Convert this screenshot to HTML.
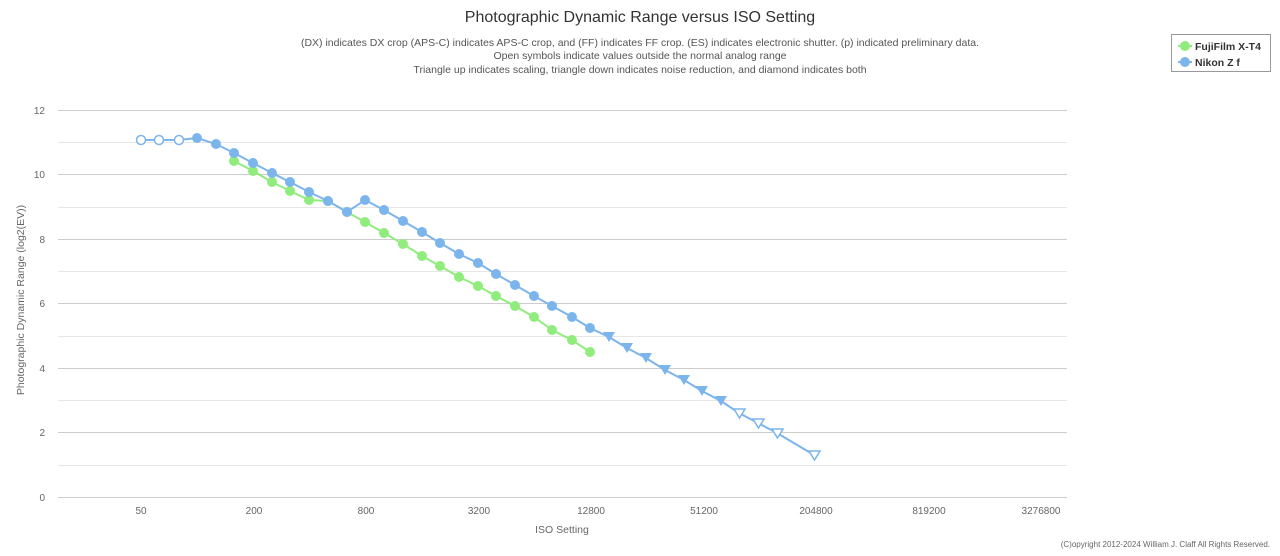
<!DOCTYPE html>
<html><head><meta charset="utf-8"><style>
body{margin:0;background:#fff;width:1280px;height:551px;overflow:hidden;font-family:"Liberation Sans",sans-serif}
</style></head><body>
<svg width="1280" height="551" xmlns="http://www.w3.org/2000/svg" font-family="Liberation Sans, sans-serif">
<text x="640" y="22" text-anchor="middle" font-size="16" fill="#333">Photographic Dynamic Range versus ISO Setting</text>
<g font-size="10.5" fill="#555" text-anchor="middle">
<text x="640" y="46">(DX) indicates DX crop (APS-C) indicates APS-C crop, and (FF) indicates FF crop. (ES) indicates electronic shutter. (p) indicated preliminary data.</text>
<text x="640" y="59">Open symbols indicate values outside the normal analog range</text>
<text x="640" y="73">Triangle up indicates scaling, triangle down indicates noise reduction, and diamond indicates both</text>
</g>
<g stroke-width="1">
<line x1="58" x2="1067" y1="110.5" y2="110.5" stroke="#ccc"/>
<line x1="58" x2="1067" y1="142.5" y2="142.5" stroke="#e6e6e6"/>
<line x1="58" x2="1067" y1="174.5" y2="174.5" stroke="#ccc"/>
<line x1="58" x2="1067" y1="207.5" y2="207.5" stroke="#e6e6e6"/>
<line x1="58" x2="1067" y1="239.5" y2="239.5" stroke="#ccc"/>
<line x1="58" x2="1067" y1="271.5" y2="271.5" stroke="#e6e6e6"/>
<line x1="58" x2="1067" y1="303.5" y2="303.5" stroke="#ccc"/>
<line x1="58" x2="1067" y1="336.5" y2="336.5" stroke="#e6e6e6"/>
<line x1="58" x2="1067" y1="368.5" y2="368.5" stroke="#ccc"/>
<line x1="58" x2="1067" y1="400.5" y2="400.5" stroke="#e6e6e6"/>
<line x1="58" x2="1067" y1="432.5" y2="432.5" stroke="#ccc"/>
<line x1="58" x2="1067" y1="465.5" y2="465.5" stroke="#e6e6e6"/>
<line x1="58" x2="1067" y1="497.5" y2="497.5" stroke="#ccc"/>
</g>
<g font-size="10" fill="#666" text-anchor="end">
<text x="45" y="114">12</text><text x="45" y="178">10</text><text x="45" y="243">8</text><text x="45" y="307">6</text><text x="45" y="372">4</text><text x="45" y="436">2</text><text x="45" y="501">0</text>
</g>
<g font-size="10" fill="#666" text-anchor="middle">
<text x="141" y="514">50</text><text x="254" y="514">200</text><text x="366" y="514">800</text><text x="479" y="514">3200</text><text x="591" y="514">12800</text><text x="704" y="514">51200</text><text x="816" y="514">204800</text><text x="929" y="514">819200</text><text x="1041" y="514">3276800</text>
</g>
<text x="562" y="533" text-anchor="middle" font-size="10.5" fill="#666">ISO Setting</text>
<text transform="translate(24,300) rotate(-90)" text-anchor="middle" font-size="10.5" fill="#666">Photographic Dynamic Range (log2(EV))</text>
<text x="1270" y="547" text-anchor="end" font-size="8" fill="#666">(C)opyright 2012-2024 William J. Claff All Rights Reserved.</text>

<polyline fill="none" stroke="#90ed7d" stroke-width="2" points="234,161 253,171 272,182 290,191 309,200 328,201 347,212 365,222 384,233 403,244 422,256 440,266 459,277 478,286 496,296 515,306 534,317 552,330 572,340 590,352"/>
<g fill="#90ed7d">
<circle cx="234" cy="161" r="5"/><circle cx="253" cy="171" r="5"/><circle cx="272" cy="182" r="5"/><circle cx="290" cy="191" r="5"/><circle cx="309" cy="200" r="5"/><circle cx="328" cy="201" r="5"/><circle cx="347" cy="212" r="5"/><circle cx="365" cy="222" r="5"/><circle cx="384" cy="233" r="5"/><circle cx="403" cy="244" r="5"/><circle cx="422" cy="256" r="5"/><circle cx="440" cy="266" r="5"/><circle cx="459" cy="277" r="5"/><circle cx="478" cy="286" r="5"/><circle cx="496" cy="296" r="5"/><circle cx="515" cy="306" r="5"/><circle cx="534" cy="317" r="5"/><circle cx="552" cy="330" r="5"/><circle cx="572" cy="340" r="5"/><circle cx="590" cy="352" r="5"/>
</g>

<polyline fill="none" stroke="#7cb5ec" stroke-width="2" points="141,140 159,140 179,140 197,138 216,144 234,153 253,163 272,173 290,182 309,192 328,201 347,212 365,200 384,210 403,221 422,232 440,243 459,254 478,263 496,274 515,285 534,296 552,306 572,317 590,328 609,337 627,348 646,358 665,370 684,380 702,391 721,401 739,413 758,423 777,433 814,455"/>
<g fill="#fff" stroke="#7cb5ec" stroke-width="1.5">
<circle cx="141" cy="140" r="4.5"/><circle cx="159" cy="140" r="4.5"/><circle cx="179" cy="140" r="4.5"/>
</g>
<g fill="#7cb5ec">
<circle cx="197" cy="138" r="5"/><circle cx="216" cy="144" r="5"/><circle cx="234" cy="153" r="5"/><circle cx="253" cy="163" r="5"/><circle cx="272" cy="173" r="5"/><circle cx="290" cy="182" r="5"/><circle cx="309" cy="192" r="5"/><circle cx="328" cy="201" r="5"/><circle cx="347" cy="212" r="5"/><circle cx="365" cy="200" r="5"/><circle cx="384" cy="210" r="5"/><circle cx="403" cy="221" r="5"/><circle cx="422" cy="232" r="5"/><circle cx="440" cy="243" r="5"/><circle cx="459" cy="254" r="5"/><circle cx="478" cy="263" r="5"/><circle cx="496" cy="274" r="5"/><circle cx="515" cy="285" r="5"/><circle cx="534" cy="296" r="5"/><circle cx="552" cy="306" r="5"/><circle cx="572" cy="317" r="5"/><circle cx="590" cy="328" r="5"/>
<path d="M603,332h12l-6,10z M621,343h12l-6,10z M640,353h12l-6,10z M659,365h12l-6,10z M678,375h12l-6,10z M696,386h12l-6,10z M715,396h12l-6,10z"/>
</g>
<g fill="#fff" stroke="#7cb5ec" stroke-width="1.5">
<path d="M734,409h11l-5.5,9z M753,419h11l-5.5,9z M772,429h11l-5.5,9z M809,451h11l-5.5,9z"/>
</g>

<rect x="1171.5" y="34.5" width="99" height="37" fill="#fff" stroke="#999"/>
<line x1="1178" x2="1192" y1="46" y2="46" stroke="#90ed7d" stroke-width="2"/><circle cx="1185" cy="46" r="5" fill="#90ed7d"/>
<line x1="1178" x2="1192" y1="62" y2="62" stroke="#7cb5ec" stroke-width="2"/><circle cx="1185" cy="62" r="5" fill="#7cb5ec"/>
<text x="1195" y="50" font-size="10.5" font-weight="bold" fill="#333">FujiFilm X-T4</text>
<text x="1195" y="66" font-size="10.5" font-weight="bold" fill="#333">Nikon Z f</text>
</svg>
</body></html>
